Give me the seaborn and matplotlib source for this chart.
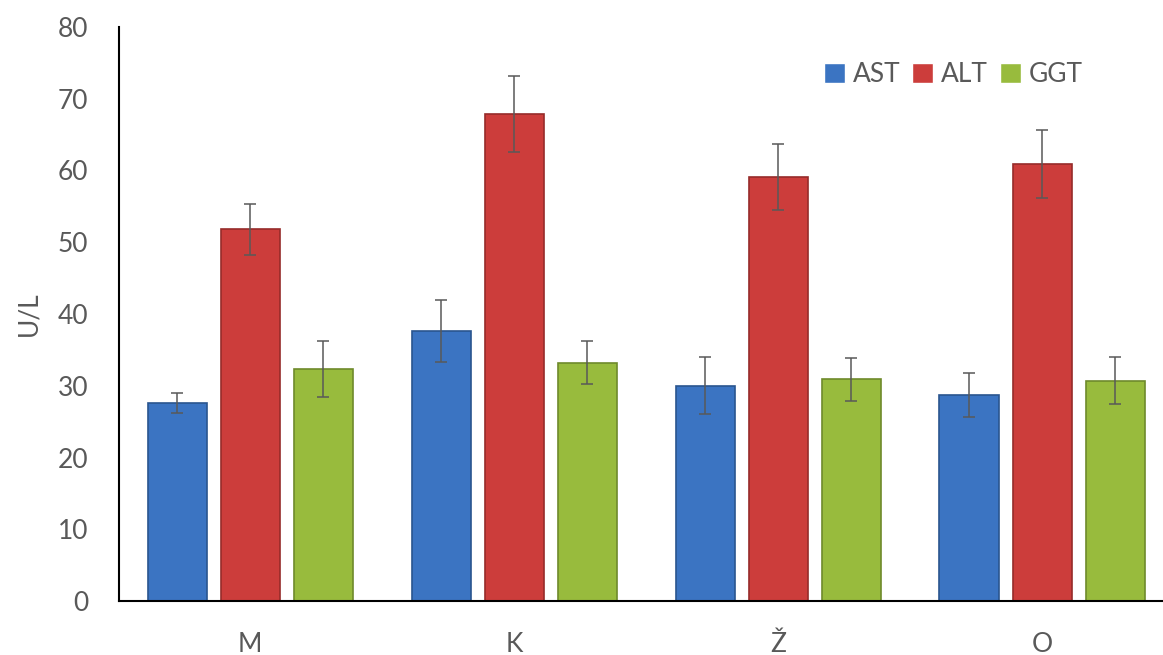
"""
Liver enzymes (AST, ALT, GGT) by group, bar chart with SD error bars.
"""

import matplotlib
matplotlib.use("Agg")
import matplotlib.pyplot as plt
import numpy as np
import pandas as pd
import seaborn as sns

groups = ["M", "K", "Ž", "O"]
enzymes = ["AST", "ALT", "GGT"]
ast_mean = [27.6, 37.6, 30.0, 28.7]
alt_mean = [51.8, 67.9, 59.1, 60.9]
ggt_mean = [32.3, 33.2, 30.9, 30.7]
ast_sd = [1.4, 4.3, 4.0, 3.1]
alt_sd = [3.6, 5.3, 4.6, 4.7]
ggt_sd = [3.9, 3.0, 3.0, 3.3]

colors = ["#3b74c2", "#cc3d3b", "#98bb3d"]
edge_colors = ["#2a558f", "#962b2a", "#6e8a2b"]
text_grey = "#595959"

rows = []
for enz, means, sds in zip(enzymes, [ast_mean, alt_mean, ggt_mean], [ast_sd, alt_sd, ggt_sd]):
    for g, m, s in zip(groups, means, sds):
        rows.append({"group": g, "enzyme": enz, "value": m, "sd": s})
df = pd.DataFrame(rows)

sns.set_theme(style="white")
plt.rcParams["font.family"] = ["Lato", "DejaVu Sans"]

fig = plt.figure(figsize=(11.63, 6.55), dpi=100)
ax = fig.add_axes([0.1023, 0.0824, 0.8977, 0.8764])

sns.barplot(data=df, x="group", y="value", hue="enzyme", order=groups,
            hue_order=enzymes, palette=colors, saturation=1, width=0.83,
            gap=0.19, errorbar=None, ax=ax, legend=True)

# colour the bar edges and add the error bars at each bar's centre
bar_containers = list(ax.containers)
for i, cont in enumerate(bar_containers):
    sub = df[df["enzyme"] == enzymes[i]].set_index("group").loc[groups]
    xs = []
    for p in cont.patches:
        p.set_edgecolor(edge_colors[i])
        p.set_linewidth(1.2)
        xs.append(p.get_x() + p.get_width() / 2)
    ax.errorbar(xs, sub["value"].values, yerr=sub["sd"].values, fmt="none",
                ecolor=text_grey, elinewidth=1.1, capsize=4.3, capthick=1.1,
                zorder=5)

ax.set_xlim(-0.497, 3.458)
ax.set_ylim(0, 80)
ax.set_yticks(np.arange(0, 81, 10))
ax.set_xlabel("")
ax.set_ylabel("U/L", fontsize=19, color=text_grey, labelpad=12)
ax.tick_params(axis="both", labelsize=19, colors=text_grey, length=0)
ax.tick_params(axis="x", pad=22)
ax.tick_params(axis="y", pad=22)

for side in ["top", "right"]:
    ax.spines[side].set_visible(False)
for side in ["left", "bottom"]:
    ax.spines[side].set_color("black")
    ax.spines[side].set_linewidth(1.5)

leg = ax.legend(loc="upper right", bbox_to_anchor=(0.946, 0.98), ncol=3,
                frameon=False, fontsize=19, handlelength=0.8, handleheight=0.8,
                handletextpad=0.3, columnspacing=0.45)
for t in leg.get_texts():
    t.set_color(text_grey)

fig.savefig("out.png", dpi=100)
